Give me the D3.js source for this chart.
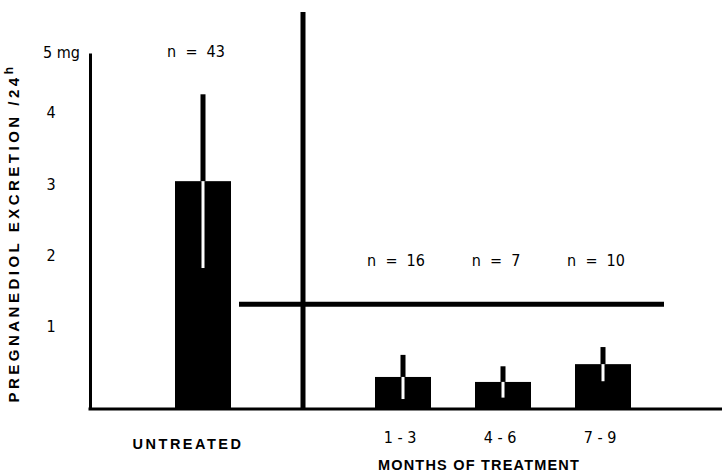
<!DOCTYPE html>
<html>
<head>
<meta charset="utf-8">
<script src="https://cdn.jsdelivr.net/npm/d3@7/dist/d3.min.js"></script>
<style>
  html, body { margin: 0; padding: 0; background: #fff; }
  svg { display: block; }
  .num { font-family: "Liberation Sans Narrow", "DejaVu Sans Condensed", sans-serif; font-size: 16px; fill: #000; }
  .cap { font-family: "Liberation Sans", Arial, sans-serif; font-weight: bold; font-size: 14.5px; fill: #000; }
</style>
</head>
<body>
<svg id="chart" width="722" height="473"></svg>
<script>
// Pregnanediol excretion per 24 h: untreated group vs. months of treatment
const categories = ["UNTREATED", "1 - 3", "4 - 6", "7 - 9"];
const meanValues = [3.2, 0.45, 0.38, 0.63];   // mg / 24 h
const sdValues   = [1.22, 0.31, 0.22, 0.24];
const sampleSizes = [43, 16, 7, 10];
const yTickValues = [1, 2, 3, 4, 5];
const referenceLevel = 1.47;                  // horizontal reference line, mg / 24 h

// slot order along the x axis; the divider sits between untreated and treated groups
const slots = ["UNTREATED", "divider", "1 - 3", "4 - 6", "7 - 9"];

const svg = d3.select("#chart");
svg.append("rect").attr("width", 722).attr("height", 473).attr("fill", "#fff");

const x = d3.scalePoint().domain(slots).range([203, 603]);
const y = d3.scaleLinear().domain([0, 5]).range([409, 53]);
const barWidth = 56;

const data = categories.map((c, i) => ({
  cat: c, mean: meanValues[i], sd: sdValues[i], n: sampleSizes[i]
}));

// y axis
const yAxis = svg.append("g")
  .attr("transform", "translate(90,0)")
  .call(d3.axisLeft(y).tickValues(yTickValues).tickSize(0).tickSizeOuter(0)
    .tickFormat(d => d === 5 ? "5 mg" : d));
yAxis.select(".domain").attr("stroke", "#000").attr("stroke-width", 3);
yAxis.selectAll(".tick text")
  .attr("class", "num")
  .style("font-size", "16px")
  .attr("text-anchor", d => d === 5 ? "start" : "middle")
  .attr("x", d => d === 5 ? -47 : -39)
  .attr("dy", d => d === 5 ? "0.25em" : "-0.4em");

// baseline
svg.append("line")
  .attr("x1", 88.5).attr("x2", 722)
  .attr("y1", y(0)).attr("y2", y(0))
  .attr("stroke", "#000").attr("stroke-width", 3);

// divider between untreated and treated groups
svg.append("line")
  .attr("x1", x("divider")).attr("x2", x("divider"))
  .attr("y1", 12).attr("y2", y(0))
  .attr("stroke", "#000").attr("stroke-width", 5);

// reference level line
svg.append("line")
  .attr("x1", 239).attr("x2", 664)
  .attr("y1", y(referenceLevel)).attr("y2", y(referenceLevel))
  .attr("stroke", "#000").attr("stroke-width", 5);

// bars
svg.selectAll("rect.bar").data(data).enter().append("rect")
  .attr("class", "bar")
  .attr("x", d => x(d.cat) - barWidth / 2)
  .attr("width", barWidth)
  .attr("y", d => y(d.mean))
  .attr("height", d => y(0) - y(d.mean))
  .attr("fill", "#000");

// upper error stem (black, above the bar)
svg.selectAll("rect.up").data(data).enter().append("rect")
  .attr("class", "up")
  .attr("x", d => x(d.cat) - 2.5)
  .attr("width", 5)
  .attr("y", d => y(d.mean + d.sd))
  .attr("height", d => y(d.mean) - y(d.mean + d.sd))
  .attr("fill", "#000");

// lower error stem (white, inside the bar)
svg.selectAll("rect.down").data(data).enter().append("rect")
  .attr("class", "down")
  .attr("x", d => x(d.cat) - 1.5)
  .attr("width", 3)
  .attr("y", d => y(d.mean))
  .attr("height", d => y(d.mean - d.sd) - y(d.mean))
  .attr("fill", "#fff");

// sample sizes
svg.selectAll("text.n").data(data).enter().append("text")
  .attr("class", "num")
  .attr("x", d => x(d.cat) - 7)
  .attr("y", d => d.cat === "UNTREATED" ? 51 : 260)
  .attr("dy", "0.35em")
  .attr("text-anchor", "middle")
  .style("white-space", "pre")
  .text(d => "n  =  " + d.n);

// category labels
svg.selectAll("text.cat").data(data).enter().append("text")
  .attr("x", d => d.cat === "UNTREATED" ? x(d.cat) - 15 : x(d.cat) - 3)
  .attr("y", d => d.cat === "UNTREATED" ? 444 : 437)
  .attr("dy", "0.35em")
  .attr("text-anchor", "middle")
  .attr("class", d => d.cat === "UNTREATED" ? "cap" : "num")
  .style("letter-spacing", d => d.cat === "UNTREATED" ? "2.5px" : "0px")
  .style("white-space", "pre")
  .text(d => d.cat);

// x group title
svg.append("text")
  .attr("class", "cap")
  .attr("x", 479).attr("y", 465)
  .attr("dy", "0.35em")
  .attr("text-anchor", "middle")
  .style("letter-spacing", "1.2px")
  .text("MONTHS OF TREATMENT");

// y axis title
const yTitle = svg.append("text")
  .attr("class", "cap")
  .style("font-size", "15px")
  .attr("transform", "translate(14,233) rotate(-90)")
  .attr("text-anchor", "middle")
  .attr("dy", "0.35em")
  .style("letter-spacing", "3.5px");
yTitle.append("tspan").text("PREGNANEDIOL EXCRETION /24");
yTitle.append("tspan").attr("dy", "-0.5em").style("font-size", "12px").text("h");
</script>
</body>
</html>
